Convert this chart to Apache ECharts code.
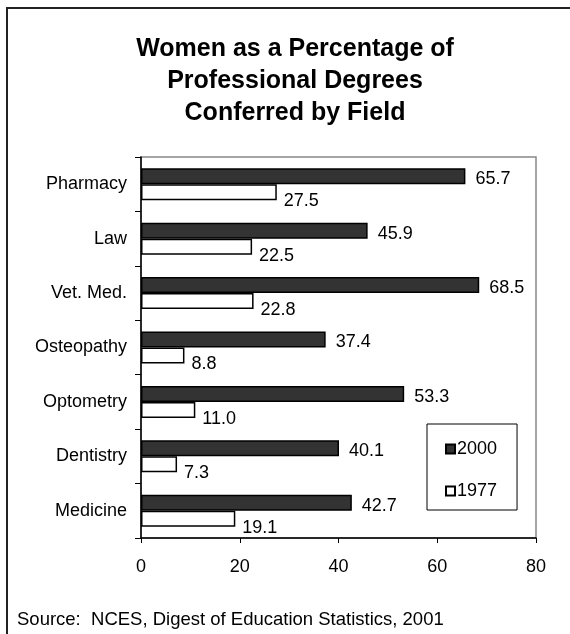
<!DOCTYPE html>
<html>
<head>
<meta charset="utf-8">
<script src="https://cdn.jsdelivr.net/npm/echarts@6/dist/echarts.min.js"></script>
<style>
  html, body { margin: 0; padding: 0; background: #fff; }
  #container { width: 570px; height: 634px; }
</style>
</head>
<body>
<div id="container"></div>
<script>
// data
var fields = ['Pharmacy', 'Law', 'Vet. Med.', 'Osteopathy', 'Optometry', 'Dentistry', 'Medicine'];
var pct2000 = [65.7, 45.9, 68.5, 37.4, 53.3, 40.1, 42.7];
var pct1977 = [27.5, 22.5, 22.8, 8.8, 11.0, 7.3, 19.1];
var xTicks = [0, 20, 40, 60, 80];

var dom = document.getElementById('container');
var myChart = echarts.init(dom);
var font = 'Liberation Sans, Arial, sans-serif';

var option = {
    animation: false,
    textStyle: { fontFamily: font },
    // outer frame (only left and top edges are visible)
    graphic: [{
        type: 'rect',
        shape: { x: 7, y: 8, width: 700, height: 800 },
        style: { fill: 'none', stroke: '#222', lineWidth: 2 },
        silent: true
    }, {
        type: 'text',
        left: 17,
        top: 610,
        style: {
            text: 'Source:  NCES, Digest of Education Statistics, 2001',
            font: '18.5px ' + font,
            fill: '#000'
        }
    }],
    title: {
        text: 'Women as a Percentage of\nProfessional Degrees\nConferred by Field',
        left: 290,
        textAlign: 'center',
        top: 28,
        textStyle: {
            fontSize: 25,
            fontWeight: 'bold',
            lineHeight: 32,
            color: '#000',
            fontFamily: font
        }
    },
    legend: {
        orient: 'vertical',
        left: 427,
        top: 424,
        padding: [16, 20, 10, 18],
        itemGap: 24,
        itemWidth: 9,
        itemHeight: 9,
        icon: 'rect',
        borderColor: '#000',
        borderWidth: 1,
        data: ['2000', '1977'],
        textStyle: { fontSize: 18, color: '#000', fontFamily: font, padding: [0, 0, 0, -3] }
    },
    grid: {
        left: 141,
        top: 157,
        width: 395,
        height: 381,
        show: true,
        borderColor: '#888',
        borderWidth: 1.5,
        backgroundColor: '#fff'
    },
    xAxis: {
        type: 'value',
        min: xTicks[0],
        max: xTicks[xTicks.length - 1],
        interval: 20,
        axisLine: { show: true, lineStyle: { color: '#000', width: 1.5 } },
        axisTick: { show: true, length: 5, lineStyle: { color: '#000' } },
        axisLabel: { fontSize: 18, color: '#000', margin: 20, fontFamily: font },
        splitLine: { show: false }
    },
    yAxis: {
        type: 'category',
        inverse: true,
        data: fields,
        axisLine: { show: true, lineStyle: { color: '#000', width: 1.5 } },
        axisTick: { show: true, length: 6, lineStyle: { color: '#000' } },
        axisLabel: { fontSize: 18, color: '#000', margin: 14, fontFamily: font }
    },
    series: [{
        name: '2000',
        type: 'bar',
        data: pct2000,
        barWidth: 16,
        barGap: '0%',
        itemStyle: { color: '#333333', borderColor: '#000', borderWidth: 1.5 },
        label: {
            show: true,
            position: 'right',
            distance: 10,
            offset: [0, 3],
            fontSize: 18,
            color: '#000',
            fontFamily: font,
            formatter: function (p) { return p.value.toFixed(1); }
        }
    }, {
        name: '1977',
        type: 'bar',
        data: pct1977,
        barWidth: 16,
        itemStyle: { color: '#ffffff', borderColor: '#000', borderWidth: 1.5 },
        label: {
            show: true,
            position: 'right',
            distance: 7,
            offset: [0, 9],
            fontSize: 18,
            color: '#000',
            fontFamily: font,
            formatter: function (p) { return p.value.toFixed(1); }
        }
    }]
};
myChart.setOption(option, true);
</script>
</body>
</html>
